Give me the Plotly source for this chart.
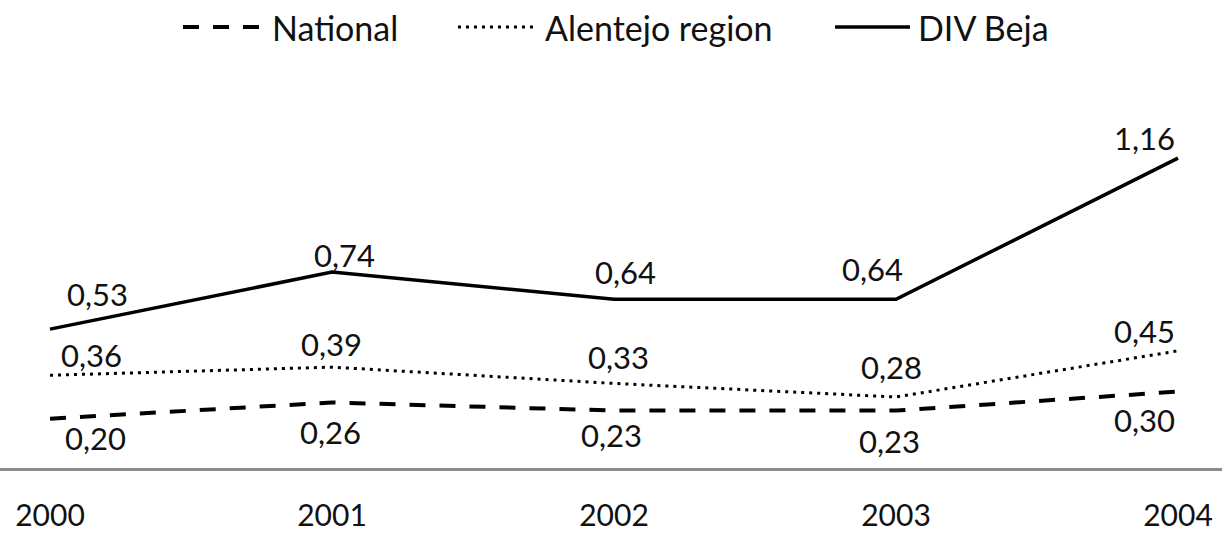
import plotly.graph_objects as go

years = ["2000", "2001", "2002", "2003", "2004"]
series_names = ["National", "Alentejo region", "DIV Beja"]
national = [0.20, 0.26, 0.23, 0.23, 0.30]
alentejo = [0.36, 0.39, 0.33, 0.28, 0.45]
div_beja = [0.53, 0.74, 0.64, 0.64, 1.16]

FONT = "Lato"
TXT = "#111111"

# line styles per series
styles = {
    "National": dict(color="black", width=4, dash="16px,14px"),
    "Alentejo region": dict(color="black", width=3, dash="3px,5px"),
    "DIV Beja": dict(color="black", width=3.5, dash="solid"),
}
# label offsets (px) per series/point
offsets = {
    "National": [(45, -19), (-2, -30), (-3, -24), (-7, -30), (-34, -28)],
    "Alentejo region": [(41, 20), (-1, 23), (4, 26), (-5, 30), (-34, 20)],
    "DIV Beja": [(47, 35), (12, 17), (11, 27), (-24, 30), (-34, 20)],
}

fig = go.Figure()
for name, vals in zip(series_names, [national, alentejo, div_beja]):
    fig.add_trace(go.Scatter(x=years, y=vals, mode="lines", name=name,
                             line=styles[name], showlegend=False))
    # category index used for annotation x (numeric-looking strings confuse category axes)
    for i, (v, (dx, dy)) in enumerate(zip(vals, offsets[name])):
        fig.add_annotation(x=i, y=v, text=f"{v:.2f}".replace(".", ","),
                           showarrow=False, xshift=dx, yshift=dy,
                           font=dict(family=FONT, size=31, color=TXT))

# legend drawn by hand (long line samples as in the original)
W, top, bottom = 1222, 97, 468
def px(x):
    return x / W
def py(y):
    return (bottom - y) / (bottom - top)

leg = [(183, 265, 270), (458, 535, 543), (835, 910, 916)]
for name, (x0, x1, tx) in zip(series_names, leg):
    st = styles[name]
    fig.add_shape(type="line", xref="paper", yref="paper",
                  x0=px(x0), x1=px(x1), y0=py(27), y1=py(27),
                  line=dict(color=st["color"], width=st["width"], dash=st["dash"]))
    fig.add_annotation(xref="paper", yref="paper", x=px(tx), y=py(27),
                       text=name, showarrow=False, xanchor="left", yanchor="middle",
                       font=dict(family=FONT, size=34, color=TXT))

fig.update_layout(
    width=1222, height=534,
    margin=dict(l=0, r=0, t=top, b=534 - bottom),
    paper_bgcolor="white", plot_bgcolor="white",
    font=dict(family=FONT, color=TXT),
    xaxis=dict(type="category", range=[-0.1773, 4.156], showgrid=False,
               automargin=False,
               showline=True, linecolor="#8c8c8c", linewidth=2.5,
               ticks="outside", ticklen=19, tickcolor="rgba(0,0,0,0)",
               tickfont=dict(family=FONT, size=30, color=TXT), zeroline=False),
    yaxis=dict(range=[0.0185, 1.385], showgrid=False, zeroline=False,
               automargin=False,
               showticklabels=False, showline=False),
)

# page body has an 8px default margin; drop it so the figure fills the window
fig.write_html("out.html", config={"displayModeBar": False},
               post_script="document.body.style.margin='0';")
